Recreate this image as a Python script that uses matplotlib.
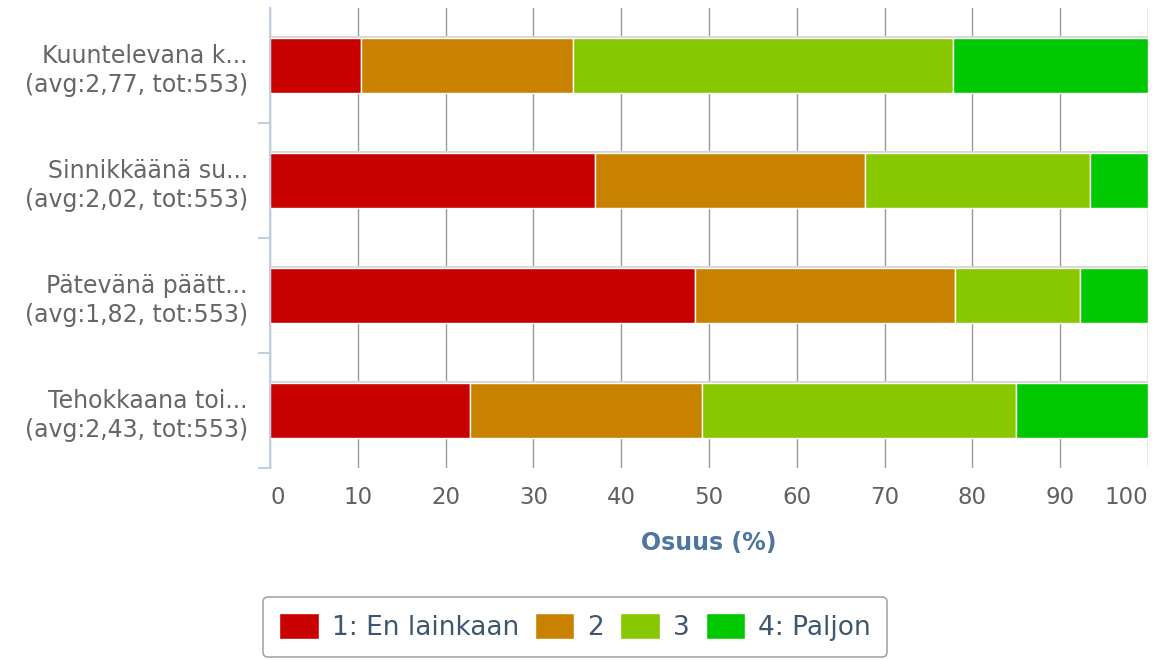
import matplotlib.pyplot as plt

# data (percent shares per answer option)
categories = ["Kuuntelevana k...\n(avg:2,77, tot:553)",
              "Sinnikkäänä su...\n(avg:2,02, tot:553)",
              "Pätevänä päätt...\n(avg:1,82, tot:553)",
              "Tehokkaana toi...\n(avg:2,43, tot:553)"]
series_names = ["1: En lainkaan", "2", "3", "4: Paljon"]
s1 = [10.4, 37.0, 48.4, 22.8]
s2 = [24.1, 30.8, 29.6, 26.4]
s3 = [43.3, 25.6, 14.3, 35.8]
s4 = [22.2, 6.6, 7.7, 15.0]
colors = ["#c80000", "#c88200", "#88c800", "#00c800"]

fig = plt.figure(figsize=(11.52, 6.6), dpi=100)
ax = fig.add_axes([270 / 1152, 1 - 468 / 660, 878 / 1152, 460 / 660])

ypos = list(range(len(categories)))
totals = [a + b + c + d for a, b, c, d in zip(s1, s2, s3, s4)]

# faint shadow along the top edge of each bar
ax.barh([y - 0.015 for y in ypos], totals, height=0.49, color="#d6d6d6", zorder=2)

left = [0] * len(categories)
for vals, name, col in zip([s1, s2, s3, s4], series_names, colors):
    ax.barh(ypos, vals, left=left, height=0.47, color=col, edgecolor="white",
            linewidth=1, label=name, zorder=3)
    left = [a + b for a, b in zip(left, vals)]

ax.set_xlim(0, 100)
ax.set_ylim(3.5, -0.5)
ax.set_xticks(range(0, 101, 10))
ax.set_yticks(ypos)
ax.set_yticklabels(categories, fontsize=17, color="#666666", linespacing=1.25)
ax.tick_params(axis="y", length=0, pad=16)
ax.tick_params(axis="x", length=0, pad=13, labelsize=16.5, labelcolor="#606060")
xt = ax.get_xticklabels()
xt[0].set_ha("left")
xt[-1].set_ha("right")

# category boundary ticks on the y axis
for b in [0.5, 1.5, 2.5, 3.5]:
    ax.plot([-1.3, 0], [b, b], color="#c0d0e0", lw=1.5, clip_on=False, zorder=4)

ax.xaxis.grid(True, color="#999999", lw=1)
ax.set_axisbelow(True)
for sp in ["top", "right", "bottom"]:
    ax.spines[sp].set_visible(False)
ax.spines["left"].set_color("#c0d0e0")
ax.spines["left"].set_linewidth(1.5)
ax.spines["left"].set_zorder(5)

ax.set_xlabel("Osuus (%)", fontsize=17, fontweight="bold", color="#4d759e", labelpad=16)

leg = fig.legend(loc="center", bbox_to_anchor=(575 / 1152, 1 - 627 / 660), ncol=4,
                 fontsize=19, frameon=True, handlelength=1.5, handleheight=1.15,
                 handletextpad=0.5, columnspacing=0.6, borderpad=0.6, fancybox=True,
                 labelcolor="#3e576f", borderaxespad=0)
leg.get_frame().set_edgecolor("#909090")
leg.get_frame().set_linewidth(1.2)

fig.savefig("out.png", dpi=100)
